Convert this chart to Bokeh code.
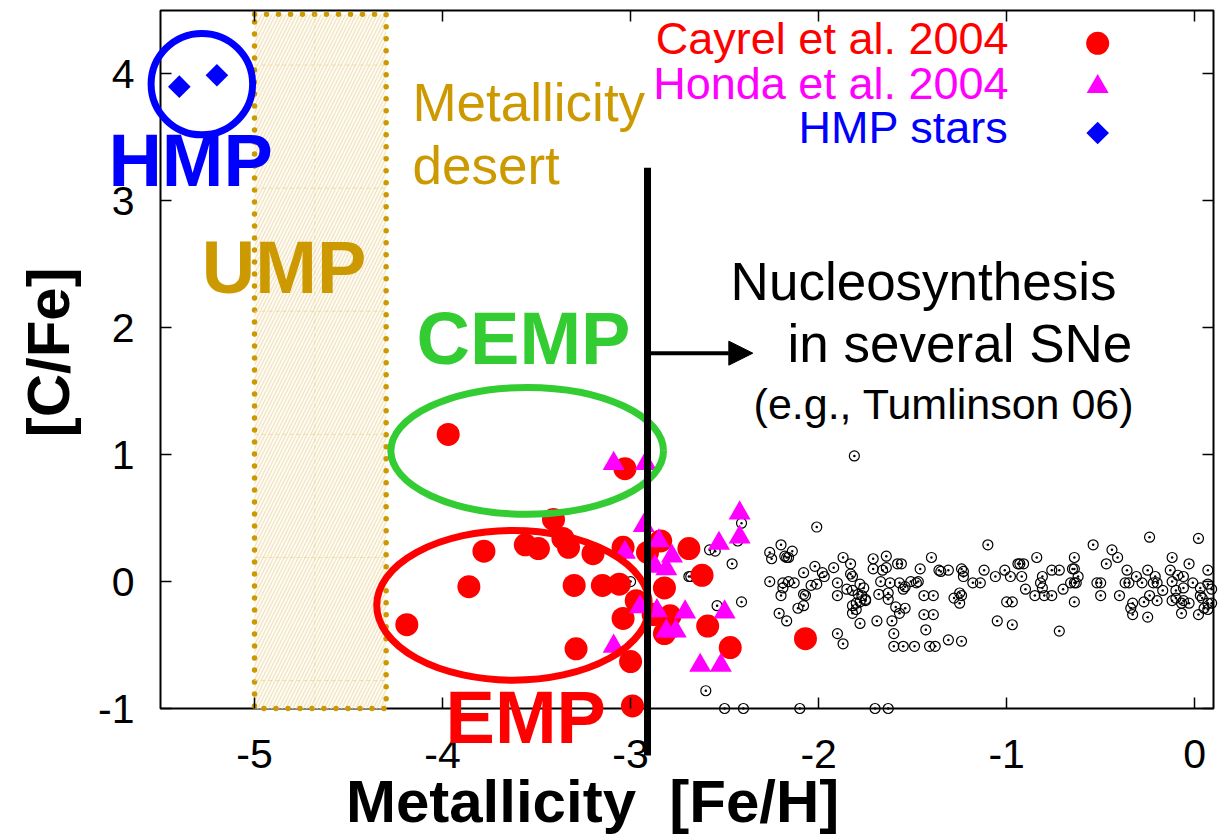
from bokeh.plotting import figure
from bokeh.models import Range1d, FixedTicker, LinearAxis, Label, Arrow, NormalHead
from bokeh.embed import file_html
from bokeh.resources import INLINE

FONT = "Liberation Sans"
RED, MAGENTA, BLUE, GREEN, GOLD = "#FF0000", "#FF00FF", "#0000FF", "#33CC33", "#CC9900"

# --- data: [Fe/H] and [C/Fe] ---------------------------------------------
cayrel_feh = [-3.97, -3.03, -3.41, -3.78, -3.56, -3.49, -3.36, -3.33, -3.20, -3.04,
              -3.86, -3.30, -3.15, -3.06, -2.97, -3.04, -4.19, -3.29, -3.00, -2.99,
              -2.91, -2.84, -2.82, -2.88, -2.79, -2.82, -2.69, -2.62, -2.59, -2.47, -2.07]
cayrel_cfe = [1.16, 0.89, 0.49, 0.24, 0.29, 0.26, 0.34, 0.27, 0.22, 0.27,
              -0.04, -0.03, -0.03, -0.02, -0.15, -0.29, -0.34, -0.53, -0.63, -0.98,
              0.23, 0.32, -0.05, -0.26, -0.27, -0.41, 0.26, 0.05, -0.35, -0.52, -0.45]

honda_feh = [-3.09, -2.92, -2.93, -3.03, -2.85, -2.78, -2.81, -2.87, -2.95, -2.86,
             -3.09, -2.81, -2.76, -2.42, -2.42, -2.53, -2.71, -2.50, -2.63, -2.52]
honda_cfe = [0.93, 0.93, 0.44, 0.23, 0.32, 0.20, 0.10, 0.12, -0.20, -0.23,
             -0.51, -0.39, -0.39, 0.54, 0.35, 0.30, -0.24, -0.24, -0.66, -0.66]

hmp_feh = [-5.40, -5.20]
hmp_cfe = [3.90, 3.99]

other_feh = [
    -1.81, -2.01, -2.41, -2.43, -2.58, -2.55, -2.46, -2.69, -2.68, -2.54, -2.41, -2.60,
    -2.50, -2.40, -2.10, -1.70, -1.63, -3.00,
    -2.20, -2.26, -2.25, -2.18, -2.17, -2.14, -2.16, -1.87, -1.83, -1.71, -1.64, -1.58,
    -1.56, -1.40, -1.10, -0.84, -0.64, -0.54, -0.44, -0.41, -0.24, -0.12, 0.02, -0.03, 0.07,
    -2.02, -2.08, -1.92, -1.98, -1.97, -1.83, -1.82, -1.71, -1.66, -1.64,
    -1.46, -1.36, -1.35, -1.31, -1.24, -1.23, -1.12, -1.06, -1.01, -0.98,
    -0.94, -0.93, -0.91, -0.92, -0.81, -0.76, -0.72, -0.65, -0.64, -0.62,
    -0.47, -0.36, -0.31, -0.25, -0.21, -0.13, -0.09, -0.06, -0.01,
    -2.26, -2.19, -2.16, -2.13, -2.04, -2.01, -1.90, -1.85, -1.78, -1.76,
    -1.67, -1.62, -1.57, -1.54, -1.51, -1.48, -1.47, -1.23, -1.18, -1.14,
    -0.82, -0.81, -0.66, -0.64, -0.63, -0.52, -0.50, -0.37, -0.35, -0.28,
    -0.22, -0.20, -0.17, -0.12, -0.10, -0.06, 0.03, 0.07, 0.09,
    -2.20, -2.19, -2.08, -2.07, -1.90, -1.82, -1.79, -1.77, -1.75, -1.68,
    -1.63, -1.55, -1.44, -1.39, -1.28, -1.25, -1.24, -0.90, -0.85, -0.80,
    -0.76, -0.70, -0.50, -0.40, -0.24, -0.10, -0.06, 0.03, 0.04,
    -2.11, -2.08, -1.82, -1.80, -1.78, -1.75, -1.63, -1.59, -1.54, -1.25,
    -1.00, -0.97, -0.64, -0.33, -0.27, -0.20, -0.12, -0.07, -0.03, 0.07, 0.09,
    -2.21, -2.17, -1.82, -1.80, -1.78, -1.69, -1.61, -1.57, -1.44, -1.39,
    -1.05, -0.97, -0.34, -0.33, -0.25, -0.07, 0.02, 0.05, 0.07,
    -1.90, -1.87, -1.60, -1.43, -0.72,
    -1.60, -1.55, -1.49, -1.41, -1.38, -1.31, -1.24,
]
other_cfe = [
    0.99, 0.43, 0.46, 0.32, 0.25, 0.24, 0.14, 0.04, 0.04, -0.19, -0.16, -0.86,
    -1.00, -1.00, -1.00, -1.00, -1.00, 0.00,
    0.29, 0.23, 0.18, 0.20, 0.19, 0.24, 0.19, 0.19, 0.14, 0.18, 0.20, 0.14,
    0.14, 0.19, 0.29, 0.19, 0.19, 0.29, 0.25, 0.19, 0.35, 0.19, 0.34, 0.14, 0.09,
    0.12, 0.07, 0.11, 0.07, 0.04, 0.06, 0.04, 0.10, 0.09, 0.11,
    0.10, 0.09, 0.08, 0.09, 0.10, 0.08, 0.09, 0.04, 0.09, 0.04,
    0.14, 0.14, 0.14, 0.04, 0.04, 0.09, 0.09, 0.10, 0.10, 0.04,
    0.14, 0.09, 0.04, 0.09, 0.04, 0.09, 0.05, 0.04, -0.01,
    0.00, -0.01, 0.00, -0.01, -0.03, -0.02, -0.01, -0.06, -0.02, -0.05,
    0.00, -0.01, -0.01, -0.04, 0.00, -0.01, 0.00, 0.04, -0.01, -0.01,
    -0.01, -0.05, -0.01, -0.01, -0.01, -0.01, -0.01, -0.01, -0.01, -0.01,
    -0.01, -0.01, -0.07, 0.00, -0.07, -0.05, -0.05, -0.02, -0.06,
    -0.11, -0.05, -0.10, -0.11, -0.11, -0.07, -0.10, -0.11, -0.14, -0.10,
    -0.09, -0.06, -0.11, -0.11, -0.13, -0.09, -0.11, -0.06, -0.11, -0.11,
    -0.11, -0.06, -0.11, -0.11, -0.11, -0.13, -0.15, -0.11, -0.13,
    -0.21, -0.19, -0.19, -0.17, -0.16, -0.15, -0.14, -0.20, -0.21, -0.17,
    -0.16, -0.16, -0.16, -0.17, -0.16, -0.15, -0.15, -0.17, -0.17, -0.17, -0.17,
    -0.25, -0.31, -0.25, -0.22, -0.33, -0.31, -0.31, -0.25, -0.26, -0.26,
    -0.31, -0.34, -0.21, -0.26, -0.28, -0.25, -0.26, -0.21, -0.22,
    -0.41, -0.49, -0.41, -0.38, -0.39,
    -0.51, -0.51, -0.51, -0.51, -0.51, -0.46, -0.47,
]

x_ticks = [-5, -4, -3, -2, -1, 0]
y_ticks = [-1, 0, 1, 2, 3, 4]
x_lo, x_hi = -5.5, 0.1
y_lo, y_hi = -1.0, 4.5

# metallicity desert and the EMP boundary
desert_left, desert_right = -5.0, -4.3
emp_boundary = -2.91

# --- figure ---------------------------------------------------------------
# The drawing area covers the whole page so that texts and shapes may run past
# the axes box; the axes themselves are pinned to the box edges.
W, H = 1228, 837
PAD_L, PAD_R, PAD_T, PAD_B = 160, 15, 10, 129
X_PX = (W - PAD_L - PAD_R) / (x_hi - x_lo)
Y_PX = (H - PAD_T - PAD_B) / (y_hi - y_lo)

p = figure(width=W, height=H,
           x_range=Range1d(x_lo - PAD_L / X_PX, x_hi + PAD_R / X_PX),
           y_range=Range1d(y_lo - PAD_B / Y_PX, y_hi + PAD_T / Y_PX),
           output_backend="svg", toolbar_location=None,
           min_border_left=0, min_border_right=0, min_border_top=0, min_border_bottom=0)
p.grid.visible = False
p.outline_line_color = None
p.background_fill_color = "white"
p.border_fill_color = "white"


def style_axis(ax, ticks, loc, labels, standoff=0):
    ax.fixed_location = loc
    ax.ticker = FixedTicker(ticks=ticks)
    ax.major_tick_in = 11
    ax.major_tick_out = 0
    ax.minor_tick_line_color = None
    ax.major_tick_line_width = 1.5
    ax.major_tick_line_color = "black"
    ax.axis_line_color = None
    ax.major_label_overrides = {t: (f"{t:d}" if labels else "") for t in ticks}
    ax.major_label_text_font = FONT
    ax.major_label_text_font_size = "41px"
    ax.major_label_text_color = "black"
    ax.major_label_standoff = standoff


style_axis(p.xaxis[0], x_ticks, y_lo, True, 31)
style_axis(p.yaxis[0], y_ticks, x_lo, True, 26)
top_axis = LinearAxis()
right_axis = LinearAxis()
style_axis(top_axis, x_ticks, y_hi, False)
style_axis(right_axis, y_ticks, x_hi, False)
p.add_layout(top_axis, "above")
p.add_layout(right_axis, "right")

# axes box
p.quad(left=[x_lo], right=[x_hi], bottom=[y_lo], top=[y_hi], fill_color=None,
       line_color="black", line_width=2)

# metallicity desert band
p.quad(left=[desert_left], right=[desert_right], bottom=[y_lo], top=[4.47],
       fill_color="#FEFBF4", hatch_pattern="/", hatch_color="#F1E3C0", hatch_scale=7,
       hatch_weight=1.2, line_color=GOLD, line_width=5.5, line_dash="0 12", line_cap="round")
grid_y = [4.07, 3.10, 2.13, 1.16, 0.19, -0.78]
p.segment(x0=[desert_left] * len(grid_y), x1=[desert_right] * len(grid_y), y0=grid_y, y1=grid_y,
          line_color="#EFD595", line_width=0.8, line_dash="4 3")
p.segment(x0=[-4.68], x1=[-4.68], y0=[y_lo], y1=[4.47], line_color="#EFD595",
          line_width=0.8, line_dash="4 3")

# other stars
p.scatter(other_feh, other_cfe, marker="circle_dot", size=10, fill_color=None,
          line_color="black", line_width=1.2)

# Cayrel et al. 2004 and Honda et al. 2004
p.scatter(cayrel_feh, cayrel_cfe, marker="circle", size=23, fill_color=RED, line_color=None)
p.scatter(honda_feh, honda_cfe, marker="triangle", size=22, fill_color=MAGENTA, line_color=None)

# HMP stars
p.scatter(hmp_feh, hmp_cfe, marker="square", angle=0.785398, size=16,
          fill_color=BLUE, line_color=None)

# group outlines
p.ellipse(x=[-3.55], y=[1.03], width=1.45, height=1.0, fill_color=None,
          line_color=GREEN, line_width=7)
p.ellipse(x=[-3.625], y=[-0.187], width=1.45, height=1.18, fill_color=None,
          line_color=RED, line_width=7)
p.ellipse(x=[-5.28], y=[3.92], width=0.54, height=0.80, fill_color=None,
          line_color=BLUE, line_width=7)

# legend
leg_x_text, leg_x_mark = -0.99, -0.516
leg_y = [4.146, 3.79, 3.445]
p.scatter([leg_x_mark], [leg_y[0] + 0.095], marker="circle", size=23, fill_color=RED, line_color=None)
p.scatter([leg_x_mark], [leg_y[1] + 0.11], marker="triangle", size=22, fill_color=MAGENTA, line_color=None)
p.scatter([leg_x_mark], [leg_y[2] + 0.09], marker="square", angle=0.785398, size=16,
          fill_color=BLUE, line_color=None)


def text(x, y, s, size, color, bold=False, align="left", baseline="alphabetic", angle=0.0):
    # y is the baseline; lift by the renderer's baseline offset
    lift = 0.38 * size / Y_PX if baseline == "alphabetic" else 0.0
    p.add_layout(Label(x=x, y=y + lift, text=s, text_font=FONT, text_font_size=f"{size}px",
                       text_color=color, text_font_style="bold" if bold else "normal",
                       text_align=align, text_baseline=baseline, angle=angle))


for s, c, y in zip(["Cayrel et al. 2004", "Honda et al. 2004", "HMP stars"],
                   [RED, MAGENTA, BLUE], leg_y):
    text(leg_x_text, y, s, 45, c, align="right")

# EMP boundary and arrow
p.add_layout(Arrow(end=None, x_start=emp_boundary, y_start=3.26, x_end=emp_boundary,
                   y_end=-1.37, line_color="black", line_width=7))
p.add_layout(Arrow(end=NormalHead(size=24, fill_color="black", line_color="black"),
                   x_start=emp_boundary, y_start=1.80, x_end=-2.35, y_end=1.80,
                   line_color="black", line_width=4))

# annotations
text(-5.777, 3.10, "HMP", 74, BLUE, bold=True)
text(-5.28, 2.256, "UMP", 74, GOLD, bold=True)
text(-4.138, 1.69, "CEMP", 74, GREEN, bold=True)
text(-3.984, -1.29, "EMP", 74, RED, bold=True)
text(-4.16, 3.62, "Metallicity", 53, GOLD)
text(-4.16, 3.12, "desert", 53, GOLD)
text(-2.468, 2.203, "Nucleosynthesis", 53, "black")
text(-2.165, 1.72, "in several SNe", 53, "black")
text(-2.346, 1.272, "(e.g., Tumlinson 06)", 43, "black")

# axis titles
text(-3.202, -1.915, "Metallicity \u00a0[Fe/H]", 60, "black", bold=True, align="center")
text(-6.096, 1.807, "[C/Fe]", 60, "black", bold=True, align="center", baseline="middle",
     angle=1.5707963)

open("out.html", "w").write(file_html(p, INLINE))
